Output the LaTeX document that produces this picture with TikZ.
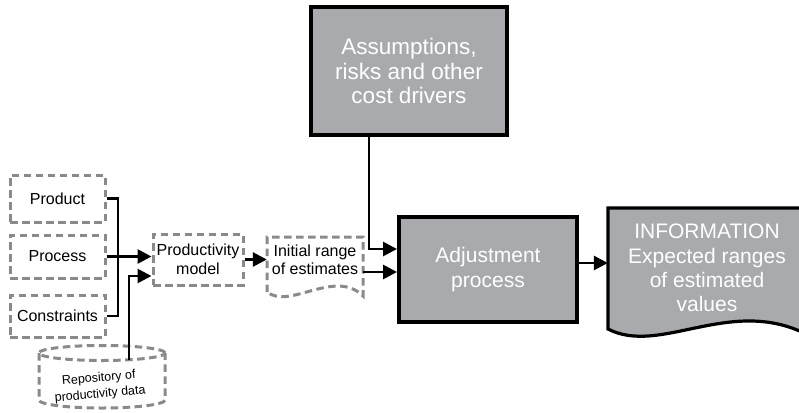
\documentclass[tikz,border=0pt]{standalone}
\usepackage{fontspec}
\setmainfont{Liberation Sans}
\usetikzlibrary{arrows.meta,calc}
\definecolor{dashgray}{HTML}{8A8A8A}
\definecolor{boxgray}{HTML}{A9AAAD}
\tikzset{
  dbox/.style={draw=dashgray, line width=3pt, dash pattern=on 7.5pt off 4.5pt,
    align=center, inner sep=0pt, font=\fontsize{16}{19}\selectfont},
  dline/.style={draw=dashgray, line width=3pt, dash pattern=on 7.5pt off 4.5pt},
  gbox/.style={fill=boxgray, draw=black, line width=4pt, text=white,
    align=center, inner sep=0pt, font=\fontsize{21}{24.5}\selectfont},
  txt/.style={align=center, inner sep=0pt},
  conn/.style={line width=2.8pt, black},
  arr/.style={conn, -{Triangle[length=14pt,width=14pt]}}
}
\begin{document}
\begin{tikzpicture}[x=1pt,y=-1pt]
\useasboundingbox (0,0) rectangle (799,412);
\clip (0,0) rectangle (799,412);

% inputs
\node[dbox, minimum width=95pt, minimum height=47pt] (prod) at (57.5,198.5) {Product};
\node[dbox, minimum width=95pt, minimum height=43pt] (proc) at (57.5,256.5) {Process};
\node[dbox, minimum width=95pt, minimum height=42pt] (cons) at (57.5,316) {Constraints};

% productivity model
\node[dbox, minimum width=90pt, minimum height=51pt] (pm) at (198,259.5) {Productivity\\model};

% initial range of estimates (document)
\draw[dline] (267,292) -- (267,237) -- (363,237) -- (363,296)
  .. controls (335,268) and (290,310) .. (267,292);
\node[txt, minimum width=96pt, minimum height=50pt, font=\fontsize{16}{18}\selectfont]
  (init) at (315,259.5) {Initial range\\of estimates};

% repository (cylinder)
\draw[dline] (39,353) -- (39,400) arc[start angle=180, end angle=360, x radius=63pt, y radius=8pt]
  -- (165,353);
\draw[dline] (102,353) ellipse[x radius=63pt, y radius=7.5pt];
\coordinate (repo) at (129,360);
\node[txt, rotate=5, font=\fontsize{12.5}{16}\selectfont] (repotxt) at (99.5,386.5)
  {Repository of\\productivity data};

% assumptions and adjustment
\node[gbox, minimum width=196pt, minimum height=128pt, font=\fontsize{22.5}{24.5}\selectfont]
  (assume) at (409,71) {Assumptions,\\risks and other\\cost drivers};
\node[gbox, minimum width=178pt, minimum height=105pt] (adj) at (488,269.5)
  {Adjustment\\process};

% information (document)
\draw[fill=boxgray, draw=black, line width=3.2pt] (608,329) -- (608,208) -- (806,208) -- (806,334)
  .. controls (730,296) and (660,356) .. (608,329) -- cycle;
\node[txt, text=white, minimum width=198pt, minimum height=120pt,
  font=\fontsize{21}{24.3}\selectfont] (info) at (707,268)
  {INFORMATION\\Expected ranges\\of estimated\\values};

% connectors
\coordinate (jx) at (118,259);
\draw[conn] (prod.east) -| (jx) |- (cons.east);
\draw[arr] (proc.east) -- (proc.east -| pm.west);
\draw[arr] (repo) |- ([yshift=-16.5pt]pm.west);
\draw[arr] (pm.east) -- (pm.east -| init.west);
\draw[arr] ($(assume.south west)!0.3!(assume.south east)$) |- ([yshift=20.5pt]adj.west);
\draw[arr] ([yshift=-12.5pt]init.east) -- ([yshift=-12.5pt]init.east -| adj.west);
\draw[arr] ([yshift=6.5pt]adj.east) -- ([yshift=6.5pt]adj.east -| info.west);
\end{tikzpicture}
\end{document}
